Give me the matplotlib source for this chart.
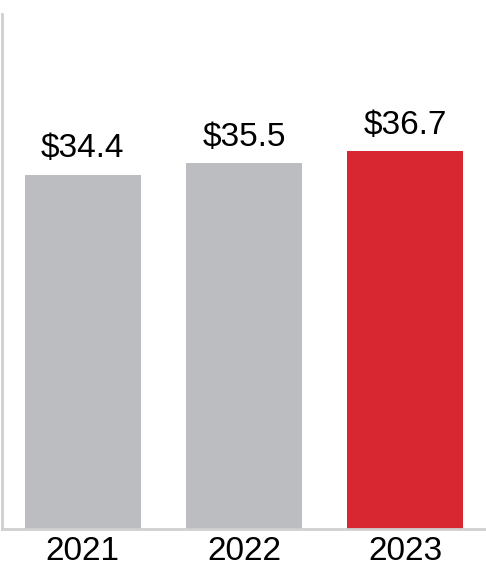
import matplotlib.pyplot as plt

years = ['2021', '2022', '2023']
values = [34.4, 35.5, 36.7]
labels = ['$34.4', '$35.5', '$36.7']
colors = ['#BCBDC0', '#BCBDC0', '#D92731']

plt.rcParams['font.family'] = ['Liberation Sans', 'DejaVu Sans']

fig = plt.figure(figsize=(4.86, 5.63), dpi=100)
ax = fig.add_axes([2 / 486, 34 / 563, 484 / 486, 515 / 563])

x = range(len(years))
bars = ax.bar(x, values, width=0.72, color=colors)
for b, lab in zip(bars, labels):
    ax.text(b.get_x() + b.get_width() / 2, b.get_height() + 1.0, lab,
            ha='center', va='bottom', fontsize=24)

ax.set_xlim(-0.5, 2.5)
ax.set_ylim(0, 50)
ax.set_xticks(list(x))
ax.set_xticklabels(years, fontsize=24)
ax.tick_params(axis='x', length=0, pad=5)
ax.set_yticks([])
for s in ['top', 'right']:
    ax.spines[s].set_visible(False)
for s in ['left', 'bottom']:
    ax.spines[s].set_color('#D0D0D0')
    ax.spines[s].set_linewidth(2)

fig.savefig('out.png', dpi=100)
